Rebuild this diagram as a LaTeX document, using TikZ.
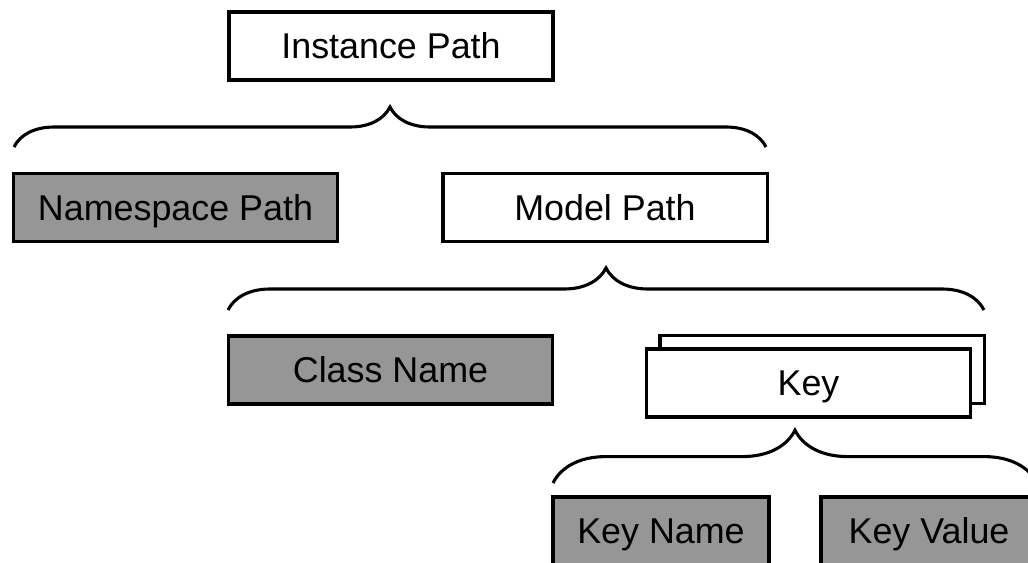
\documentclass[tikz,border=0pt]{standalone}
\usepackage{fontspec}
\setmainfont{Liberation Sans}
\usetikzlibrary{positioning,decorations.pathreplacing}
\definecolor{partgray}{RGB}{150,150,150}

\begin{document}
\begin{tikzpicture}[
    x=0.025cm, y=-0.025cm,
    every node/.style={font=\fontsize{25.5}{30}\selectfont},
    box/.style={draw, line width=2.2pt, fill=white, minimum width=8.1cm, minimum height=1.7cm,
        inner sep=0pt, text height=18.3pt, text depth=0pt},
    graybox/.style={box, fill=partgray},
    smallbox/.style={graybox, minimum width=5.4cm},
    grp/.style={decorate, line width=2.2pt, decoration={brace, amplitude=#1}},
    grp/.default=1cm
]
\useasboundingbox (0,0) rectangle (1028,562);
\clip (0,0) rectangle (1028,562);

\node[box] (inst) at (391,46) {Instance Path};
\node[graybox] (ns) at (175.5,207.5) {Namespace Path};
\node[box] (model) at (605,207.5) {Model Path};
\node[graybox] (cls) at (390.5,370) {Class Name};
\node[box] (keyback) at (822,369.5) {};
\node[box] (key) at (808.5,383) {Key};
\node[smallbox] (kname) at (661,531) {Key Name};
\node[smallbox] (kval) at (929,531) {Key Value};

% braces
\coordinate (b1l) at (14,147);
\coordinate (b1r) at (766,147);
\coordinate (b2l) at (228,310);
\coordinate (b2r) at (984,310);
\coordinate (b3l) at (553,483);
\coordinate (b3r) at (1037,483);

\draw[grp] (b1l) -- (b1r);
\draw[grp=1.05cm] (b2l) -- (b2r);
\draw[grp=1.32cm] (b3l) -- (b3r);

\end{tikzpicture}
\end{document}
